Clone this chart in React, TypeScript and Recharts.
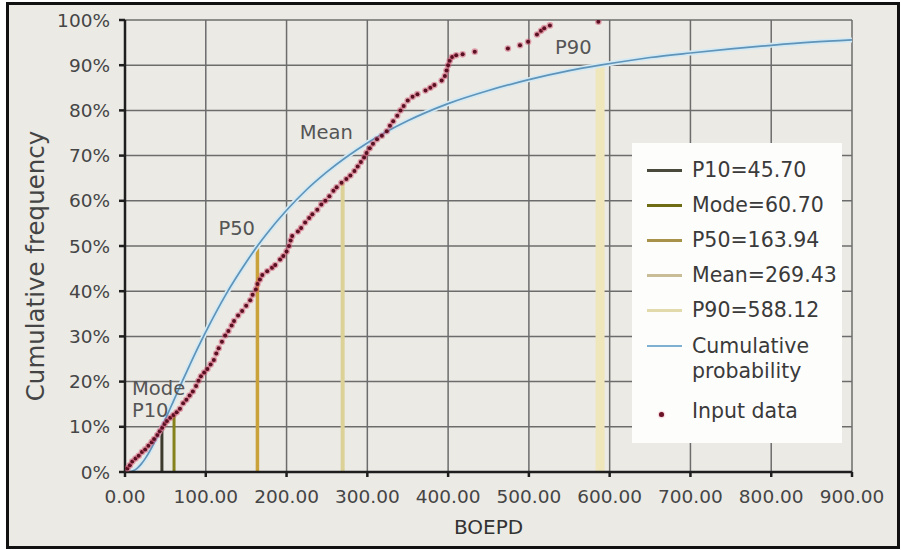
import React from 'react';
import {
  ComposedChart,
  XAxis,
  YAxis,
  CartesianGrid,
  Line,
  Scatter,
  ReferenceLine,
  ReferenceDot,
  Legend,
  Label,
} from 'recharts';

const FONT = "'DejaVu Sans', Verdana, sans-serif";

// Axis ticks
const xTicks = [0, 100, 200, 300, 400, 500, 600, 700, 800, 900];
const yTicks = [0, 10, 20, 30, 40, 50, 60, 70, 80, 90, 100];

// Fitted cumulative probability curve (BOEPD, cumulative %)
const curveX = [0, 5, 10, 15, 20, 25, 30, 40, 45.7, 50, 60, 70, 80, 90, 100, 125, 150, 163.94, 175, 200, 225, 250, 300, 350, 400, 450, 500, 550, 588.12, 650, 700, 750, 800, 850, 900];
const curveY = [0, 0.02, 0.25, 0.82, 1.74, 2.96, 4.43, 7.85, 10, 11.7, 15.7, 19.7, 23.6, 27.4, 31.0, 39.3, 46.4, 50, 52.6, 57.9, 62.5, 66.4, 72.8, 77.7, 81.5, 84.4, 86.8, 88.8, 90, 91.7, 92.7, 93.6, 94.4, 95.1, 95.6];

// Input data (BOEPD, cumulative %)
const inputX = [3, 6, 9, 13, 17, 21, 25, 29, 33, 36, 40, 43, 46, 49, 52, 56, 60, 64,
  68, 72, 76, 80, 84, 88, 91, 94, 98, 102,
  106, 110, 113, 116, 120, 124, 128, 132, 135, 140, 145, 150, 155, 158, 162, 164, 167, 170,
  176, 182, 186, 192, 196, 200, 203, 205, 207,
  214, 218, 223, 228, 232, 238, 243, 248, 253, 258, 262, 268, 274, 279, 284, 288, 292, 296, 299, 303, 307, 312,
  318, 324, 328, 332, 337, 341, 345, 350, 356, 362, 372, 378, 383, 392, 396, 398, 400, 402, 405, 410, 418, 433,
  474, 489, 499, 510, 515, 519, 526, 586];
const inputY = [0.8, 1.5, 2.3, 3.0, 3.6, 4.4, 5.0, 5.8, 6.6, 7.3, 8.2, 9.0, 9.8, 10.6, 11.3, 12.0, 12.6, 13.2,
  14.0, 15.2, 16.0, 16.9, 17.8, 19.0, 20.2, 21.2, 22.0, 22.8,
  23.8, 24.8, 26.2, 27.4, 28.8, 30.2, 31.2, 32.4, 33.4, 34.6, 35.6, 36.8, 38.0, 39.2, 40.4, 41.6, 42.6, 43.6,
  44.4, 45.2, 45.8, 47.0, 47.8, 48.8, 50.0, 51.2, 52.2,
  53.2, 54.0, 55.2, 56.2, 57.0, 58.0, 59.2, 60.0, 61.0, 62.2, 63.0, 64.0, 64.8, 65.6, 66.6, 67.6, 68.6, 69.6, 70.6, 71.6, 72.6, 73.6,
  74.4, 75.4, 76.6, 77.6, 78.8, 80.0, 81.0, 82.2, 83.0, 83.6, 84.4, 85.0, 85.6, 86.6, 87.6, 88.8, 90.0, 91.0, 91.8, 92.2, 92.4, 93.0,
  93.7, 94.4, 95.2, 96.8, 97.6, 98.2, 98.8, 99.6];

// Summary statistics and the cumulative level each marker line rises to
const markerNames = ['P10', 'Mode', 'P50', 'Mean', 'P90'];
const markerValues = [45.7, 60.7, 163.94, 269.43, 588.12];
const markerTops = [10, 12.5, 50, 64, 90];

const markerStyles = [
  { color: '#3c3b2e', legend: '#4a4a3c', width: 3, dx: -30, dy: -16 },
  { color: '#85821c', legend: '#6f6d14', width: 3, dx: -42, dy: -27 },
  { color: '#c9a23c', legend: '#a8924a', width: 3.5, dx: -39, dy: -18 },
  { color: '#dcd196', legend: '#c9bd98', width: 4, dx: -43, dy: -50 },
  { color: '#efe6bb', legend: '#e2d9ad', width: 9, dx: -45, dy: -18 },
];

const curveData = curveX.map((x, i) => ({ x, y: curveY[i] }));
const inputData = inputX.map((x, i) => ({ x, y: inputY[i] }));

const DataDot = (props: any) => {
  const { cx, cy } = props;
  if (cx == null || cy == null) return null;
  return (
    <g>
      <circle cx={cx} cy={cy} r={3.3} fill="#d2506c" opacity={0.5} />
      <circle cx={cx} cy={cy} r={2} fill="#5a0f22" />
    </g>
  );
};

const LegendBox = () => {
  const rowText: React.CSSProperties = {
    position: 'absolute',
    left: 60,
    fontFamily: FONT,
    fontSize: 20.5,
    color: '#3a3a3a',
    lineHeight: '25px',
    whiteSpace: 'nowrap',
  };
  const sample = (top: number, color: string, h = 3): React.CSSProperties => ({
    position: 'absolute',
    left: 15,
    top: top - h / 2,
    width: 35,
    height: h,
    background: color,
  });
  return (
    <div style={{ position: 'relative', width: 210, height: 300, background: '#fdfdfc' }}>
      {markerNames.map((n, i) => {
        const c = 27 + i * 35;
        return (
          <React.Fragment key={n}>
            <div style={sample(c, markerStyles[i].legend)} />
            <div style={{ ...rowText, top: c - 12.5 }}>{`${n}=${markerValues[i].toFixed(2)}`}</div>
          </React.Fragment>
        );
      })}
      <div style={sample(203, '#7fb0d2', 2.5)} />
      <div style={{ ...rowText, top: 203 - 12.5 }}>Cumulative</div>
      <div style={{ ...rowText, top: 228 - 12.5 }}>probability</div>
      <div
        style={{
          position: 'absolute',
          left: 27,
          top: 269,
          width: 5,
          height: 5,
          borderRadius: 3,
          background: '#6a1226',
          boxShadow: '0 0 2px #d2506c',
        }}
      />
      <div style={{ ...rowText, top: 268 - 12.5 }}>Input data</div>
    </div>
  );
};

export default function App() {
  const tickStyle = { fill: '#454545', fontSize: 18.5, fontFamily: FONT };
  return (
    <div style={{ position: 'absolute', left: 0, top: 0, width: 901, height: 550, background: '#ffffff' }}>
      <div
        style={{
          position: 'absolute',
          left: 6,
          top: 2,
          width: 894,
          height: 547,
          boxSizing: 'border-box',
          border: '3px solid #111',
          background: '#ebeae5',
        }}
      />
      <div style={{ position: 'absolute', left: 0, top: 0 }}>
        <ComposedChart width={901} height={550} margin={{ top: 20, right: 49, bottom: 48, left: 65 }}>
          <CartesianGrid stroke="#6c6c6c" strokeWidth={1.5} />
          <XAxis
            type="number"
            dataKey="x"
            domain={[0, 900]}
            ticks={xTicks}
            interval={0}
            tickFormatter={(v: number) => v.toFixed(2)}
            height={30}
            tickSize={5}
            tickMargin={13}
            stroke="#1e1e1e"
            strokeWidth={2.5}
            tick={tickStyle}
            allowDataOverflow
          >
            <Label
              value="BOEPD"
              position="bottom"
              offset={18}
              style={{ fill: '#333', fontSize: 20, fontFamily: FONT }}
            />
          </XAxis>
          <YAxis
            type="number"
            dataKey="y"
            domain={[0, 100]}
            ticks={yTicks}
            interval={0}
            tickFormatter={(v: number) => `${v}%`}
            width={60}
            tickSize={6}
            tickMargin={9}
            stroke="#1e1e1e"
            strokeWidth={2.5}
            tick={tickStyle}
            allowDataOverflow
          >
            <Label
              content={(p: any) => {
                const vb = p.viewBox || { x: 65, y: 20, height: 452 };
                const cx = vb.x - 30;
                const cy = vb.y + vb.height / 2 + 20;
                return (
                  <text
                    x={cx}
                    y={cy}
                    transform={`rotate(-90 ${cx} ${cy})`}
                    textAnchor="middle"
                    dominantBaseline="central"
                    fill="#444"
                    fontSize={24.5}
                    fontFamily={FONT}
                  >
                    Cumulative frequency
                  </text>
                );
              }}
            />
          </YAxis>

          {markerNames.map((n, i) => (
            <ReferenceLine
              key={`seg-${n}`}
              segment={[
                { x: markerValues[i], y: 0 },
                { x: markerValues[i], y: markerTops[i] },
              ]}
              stroke={markerStyles[i].color}
              strokeWidth={markerStyles[i].width}
            />
          ))}

          <Line
            data={curveData}
            dataKey="y"
            type="monotone"
            stroke="#d3e9f3"
            strokeWidth={5}
            dot={false}
            activeDot={false}
            isAnimationActive={false}
            legendType="none"
          />
          <Line
            data={curveData}
            dataKey="y"
            type="monotone"
            stroke="#5f93b8"
            strokeWidth={1.7}
            dot={false}
            activeDot={false}
            isAnimationActive={false}
            name="Cumulative probability"
          />
          <Scatter
            data={inputData}
            dataKey="y"
            shape={DataDot}
            isAnimationActive={false}
            name="Input data"
          />

          {markerNames.map((n, i) => (
            <ReferenceDot
              key={`lbl-${n}`}
              x={markerValues[i]}
              y={markerTops[i]}
              r={0}
              fill="none"
              stroke="none"
              label={{
                content: (p: any) => {
                  const vb = p.viewBox || { x: 0, y: 0 };
                  return (
                    <text
                      x={vb.x + markerStyles[i].dx}
                      y={vb.y + markerStyles[i].dy}
                      dominantBaseline="central"
                      fill="#555"
                      fontSize={19.5}
                      fontFamily={FONT}
                    >
                      {n}
                    </text>
                  );
                },
              }}
            />
          ))}

          <Legend
            layout="horizontal"
            align="center"
            verticalAlign="middle"
            content={() => <LegendBox />}
            wrapperStyle={{ left: 632, top: 143, width: 210, height: 300 }}
          />
        </ComposedChart>
      </div>
    </div>
  );
}
